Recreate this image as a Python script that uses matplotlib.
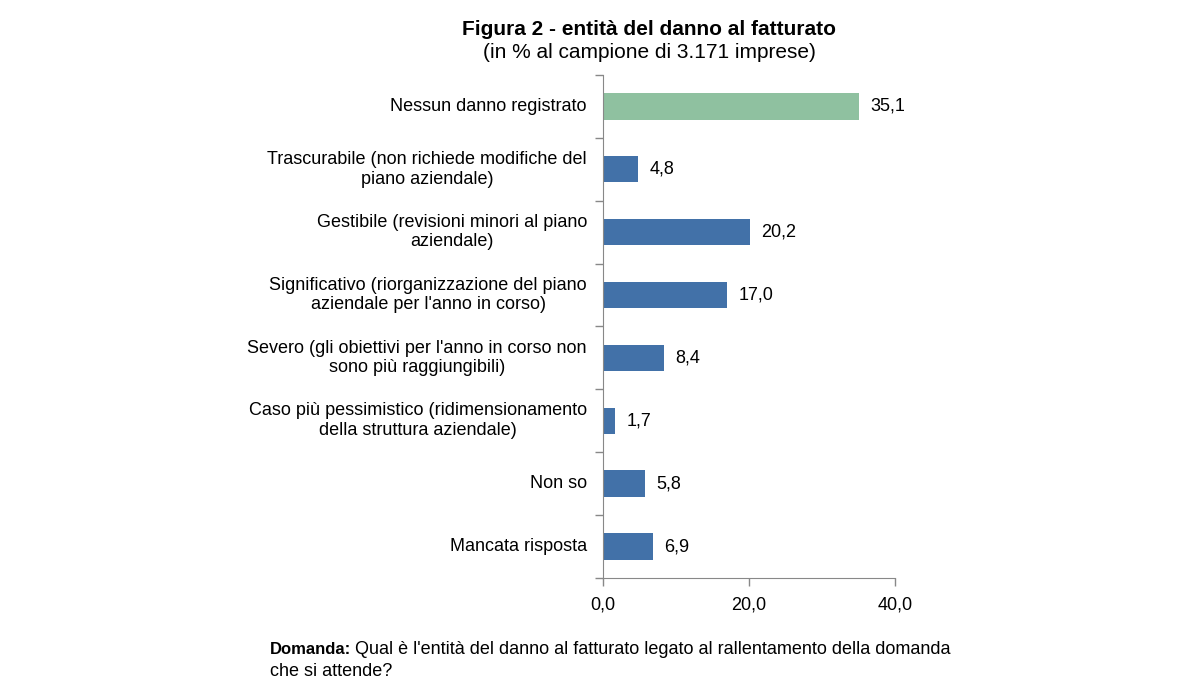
import matplotlib
matplotlib.use("Agg")
import matplotlib.pyplot as plt

plt.rcParams['font.family'] = ['Liberation Sans', 'DejaVu Sans']

categories = [
    "Nessun danno registrato",
    "Trascurabile (non richiede modifiche del\npiano aziendale)",
    "Gestibile (revisioni minori al piano\naziendale)",
    "Significativo (riorganizzazione del piano\naziendale per l'anno in corso)",
    "Severo (gli obiettivi per l'anno in corso non\nsono più raggiungibili)",
    "Caso più pessimistico (ridimensionamento\ndella struttura aziendale)",
    "Non so",
    "Mancata risposta",
]
values = [35.1, 4.8, 20.2, 17.0, 8.4, 1.7, 5.8, 6.9]
xticks = [0, 20, 40]

green = "#8FC1A0"
blue = "#4271A8"
colors = [green] + [blue] * (len(values) - 1)

fig = plt.figure(figsize=(12, 7), dpi=100)
ax = fig.add_axes([0.5025, 0.1743, 0.2433, 0.7187])

ypos = list(range(len(values)))
ax.barh(ypos, values, height=0.42, color=colors, zorder=2)
ax.set_ylim(len(values) - 0.5, -0.5)
ax.set_xlim(0, 40)

for y, v in zip(ypos, values):
    ax.annotate(f"{v:.1f}".replace(".", ","), (v, y), xytext=(8, 0),
                textcoords="offset points", va="center", ha="left", fontsize=13)

# category labels, ticks sit on boundaries
ax.set_yticks([y + 0.5 for y in ypos[:-1]] + [-0.5, len(values) - 0.5])
ax.set_yticklabels([])
for y, lab in zip(ypos, categories):
    ax.text(-0.055, y, lab, transform=ax.get_yaxis_transform(), ha="right",
            va="center", multialignment="center", fontsize=13, linespacing=1.2)

ax.set_xticks(xticks)
ax.set_xticklabels([f"{t:.1f}".replace(".", ",") for t in xticks], fontsize=13)

for s in ["top", "right"]:
    ax.spines[s].set_visible(False)
for s in ["left", "bottom"]:
    ax.spines[s].set_color("#888888")
ax.tick_params(axis="both", direction="out", length=6, color="#888888", width=1)
ax.tick_params(axis="x", pad=7)

fig.text(0.541, 0.958, "Figura 2 - entità del danno al fatturato", ha="center",
         va="center", fontsize=15, fontweight="bold")
fig.text(0.541, 0.925, "(in % al campione di 3.171 imprese)", ha="center",
         va="center", fontsize=15)

fig.text(270 / 1200, 1 - 650 / 700, "Domanda:", ha="left", va="center",
         fontsize=12, fontweight="bold")
fig.text(355 / 1200, 1 - 650 / 700,
         "Qual è l'entità del danno al fatturato legato al rallentamento della domanda",
         ha="left", va="center", fontsize=13)
fig.text(270 / 1200, 1 - 671 / 700, "che si attende?", ha="left", va="center",
         fontsize=13)

fig.savefig("out.png", dpi=100)
